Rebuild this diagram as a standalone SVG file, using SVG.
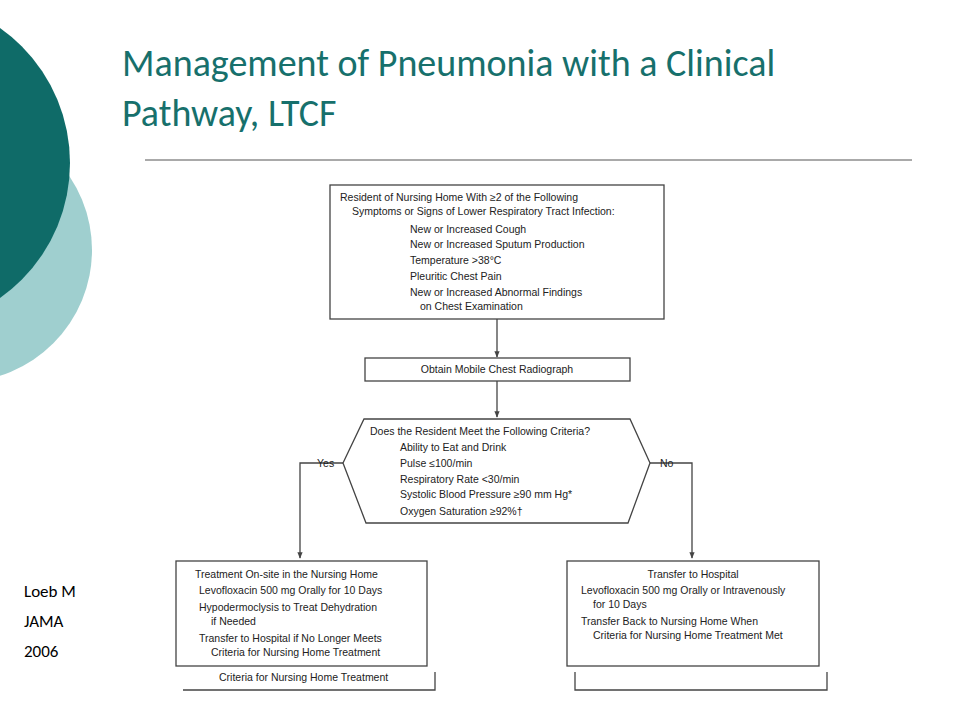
<svg xmlns="http://www.w3.org/2000/svg" width="960" height="720" viewBox="0 0 960 720">
<style>
.b{fill:#fff;stroke:#444;stroke-width:1.3}
.c{fill:none;stroke:#444;stroke-width:1.3}
.t{font-family:"Liberation Sans",Arial,sans-serif;font-size:10.5px;fill:#222}
.m{text-anchor:middle}
</style>
<defs><marker id="a" viewBox="0 0 10 10" refX="9" refY="5" markerWidth="5" markerHeight="5" orient="auto"><path d="M0,1L10,5L0,9z" fill="#444"/></marker></defs>
<rect width="960" height="720" fill="#fff"/>
<circle cx="-40" cy="250" r="132" fill="#9fcfcf"/>
<circle cx="-95" cy="163" r="165" fill="#0f6b68"/>
<text x="122" y="76" font-family="Calibri,'Liberation Sans',sans-serif" font-size="38" fill="#17706c">Management of Pneumonia with a Clinical</text>
<text x="122" y="126" font-family="Calibri,'Liberation Sans',sans-serif" font-size="38" fill="#17706c">Pathway, LTCF</text>
<line x1="145" y1="160" x2="912" y2="160" stroke="#555" stroke-width="1"/>
<g font-family="Calibri,'Liberation Sans',sans-serif" font-size="17" fill="#000">
<text x="24" y="597">Loeb M</text><text x="24" y="627">JAMA</text><text x="24" y="657">2006</text>
</g>
<g id="connectors">
<line class="c" x1="497" y1="319" x2="497" y2="357" marker-end="url(#a)"/>
<line class="c" x1="497" y1="381" x2="497" y2="417" marker-end="url(#a)"/>
<polyline class="c" points="343,463 300,463 300,558" marker-end="url(#a)"/>
<polyline class="c" points="650,463 692,463 692,558" marker-end="url(#a)"/>
<text class="t" x="317" y="467">Yes</text>
<text class="t" x="660" y="467">No</text>
</g>
<g id="n1"><rect class="b" x="330" y="185" width="334" height="134"/>
<text class="t" x="340" y="201">Resident of Nursing Home With ≥2 of the Following</text>
<text class="t" x="352" y="215">Symptoms or Signs of Lower Respiratory Tract Infection:</text>
<text class="t" x="410" y="233">New or Increased Cough</text>
<text class="t" x="410" y="248">New or Increased Sputum Production</text>
<text class="t" x="410" y="264">Temperature &gt;38°C</text>
<text class="t" x="410" y="280">Pleuritic Chest Pain</text>
<text class="t" x="410" y="296">New or Increased Abnormal Findings</text>
<text class="t" x="420" y="310">on Chest Examination</text>
</g>
<g id="n2"><rect class="b" x="365" y="358" width="265" height="23"/>
<text class="t m" x="497" y="373">Obtain Mobile Chest Radiograph</text></g>
<g id="n3"><polygon class="b" points="364,419 630,419 650,463 628,523 366,523 343,463"/>
<text class="t" x="370" y="435">Does the Resident Meet the Following Criteria?</text>
<text class="t" x="400" y="451">Ability to Eat and Drink</text>
<text class="t" x="400" y="467">Pulse ≤100/min</text>
<text class="t" x="400" y="483">Respiratory Rate &lt;30/min</text>
<text class="t" x="400" y="498">Systolic Blood Pressure ≥90 mm Hg*</text>
<text class="t" x="400" y="515">Oxygen Saturation ≥92%†</text>
</g>
<g id="n4"><rect class="b" x="176" y="561" width="251" height="105"/>
<text class="t" x="195" y="578">Treatment On-site in the Nursing Home</text>
<text class="t" x="199" y="594">Levofloxacin 500 mg Orally for 10 Days</text>
<text class="t" x="199" y="611">Hypodermoclysis to Treat Dehydration</text>
<text class="t" x="211" y="625">if Needed</text>
<text class="t" x="199" y="642">Transfer to Hospital if No Longer Meets</text>
<text class="t" x="211" y="656">Criteria for Nursing Home Treatment</text>
<polyline class="c" points="435,672 435,690 183,690"/>
<text class="t" x="219" y="681">Criteria for Nursing Home Treatment</text>
</g>
<g id="n5"><rect class="b" x="567" y="561" width="252" height="105"/>
<text class="t m" x="693" y="578">Transfer to Hospital</text>
<text class="t" x="581" y="594">Levofloxacin 500 mg Orally or Intravenously</text>
<text class="t" x="593" y="608">for 10 Days</text>
<text class="t" x="581" y="625">Transfer Back to Nursing Home When</text>
<text class="t" x="593" y="639">Criteria for Nursing Home Treatment Met</text>
<polyline class="c" points="575,672 575,690 827,690 827,672"/>
</g>
</svg>
